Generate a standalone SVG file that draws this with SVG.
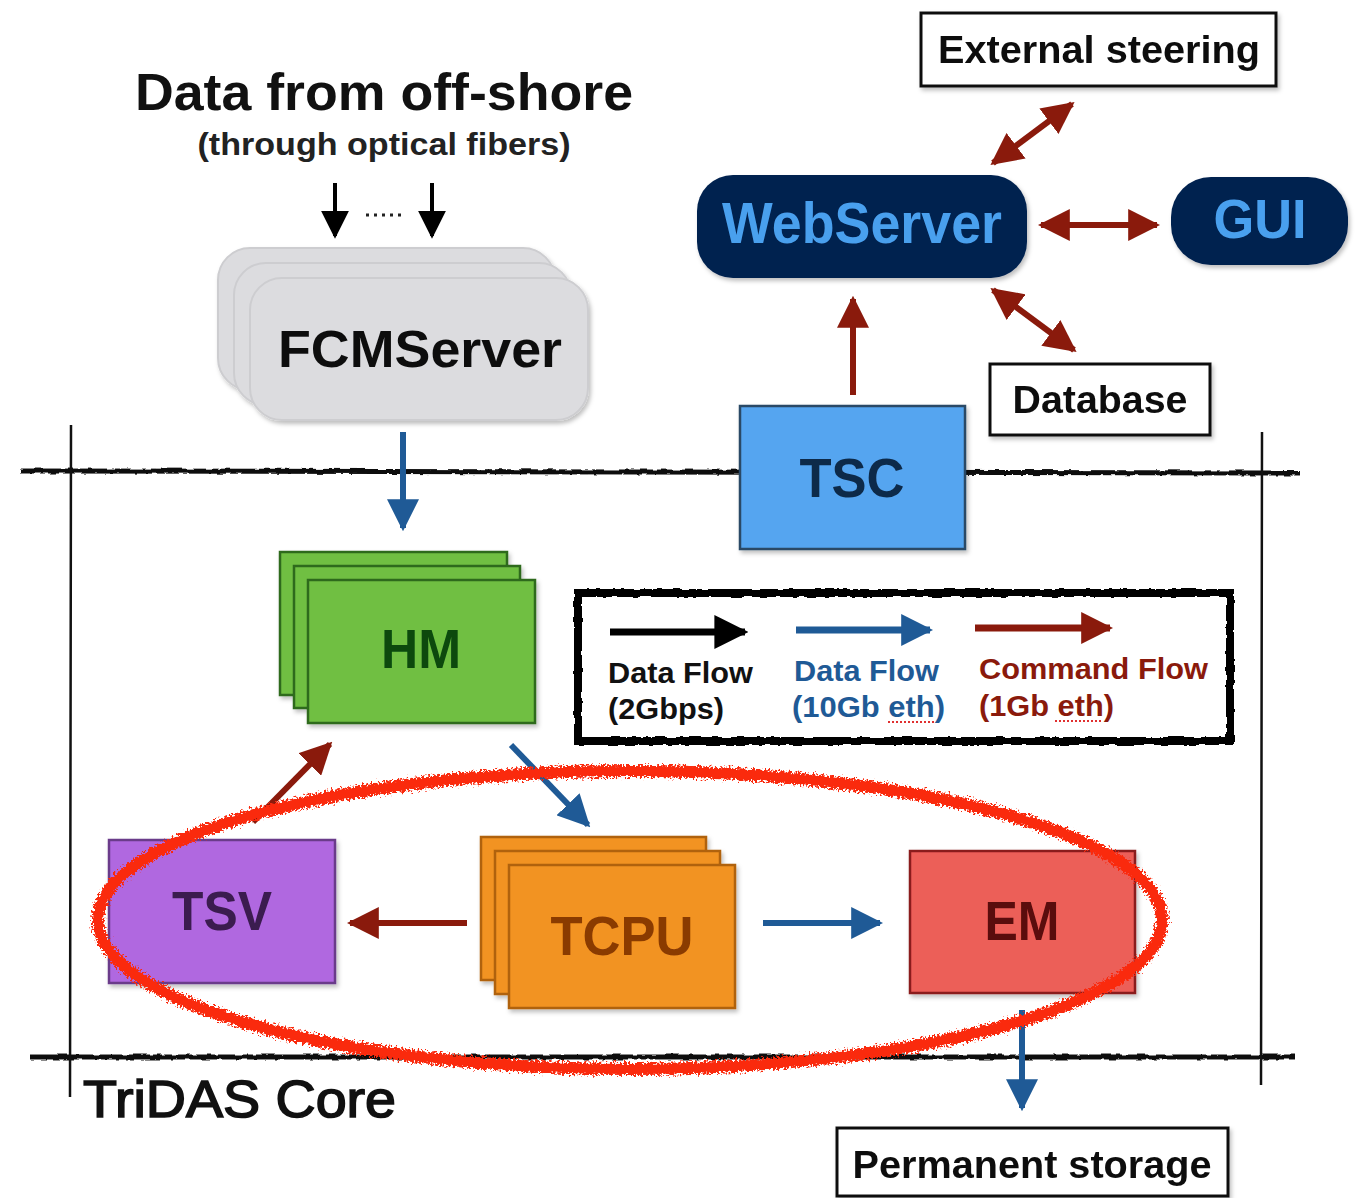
<svg xmlns="http://www.w3.org/2000/svg" width="1364" height="1198" viewBox="0 0 1364 1198">
<style>
  text { font-family: "Liberation Sans", Arial, sans-serif; font-weight: bold; }
  .lbl { text-anchor: middle; }
  .wbox { fill: #fff; stroke: #111; stroke-width: 3; }
  .blue { stroke: #1f5a96; stroke-width: 6; fill: none; }
  .red { stroke: #8a1a0c; stroke-width: 6; fill: none; }
  .sketch { stroke: #111; fill: none; }
</style>
<defs>
  <filter id="sh" x="-10%" y="-10%" width="125%" height="130%">
    <feDropShadow dx="2" dy="3" stdDeviation="2" flood-color="#000" flood-opacity="0.25"/>
  </filter>
  <filter id="rough" filterUnits="userSpaceOnUse" x="0" y="0" width="1364" height="1198">
    <feTurbulence type="fractalNoise" baseFrequency="0.12" numOctaves="2" seed="3" result="n"/>
    <feDisplacementMap in="SourceGraphic" in2="n" scale="4" xChannelSelector="R" yChannelSelector="G"/>
  </filter>
  <filter id="rough2" filterUnits="userSpaceOnUse" x="0" y="0" width="1364" height="1198">
    <feTurbulence type="fractalNoise" baseFrequency="0.45" numOctaves="3" seed="7" result="n"/>
    <feDisplacementMap in="SourceGraphic" in2="n" scale="11" xChannelSelector="R" yChannelSelector="G"/>
  </filter>
  <marker id="hb" viewBox="0 0 10 10" refX="9" refY="5" markerUnits="userSpaceOnUse" markerWidth="32" markerHeight="32" orient="auto-start-reverse">
    <path d="M0,0 L10,5 L0,10 z" fill="#1f5a96"/>
  </marker>
  <marker id="hr" viewBox="0 0 10 10" refX="9" refY="5" markerUnits="userSpaceOnUse" markerWidth="32" markerHeight="32" orient="auto-start-reverse">
    <path d="M0,0 L10,5 L0,10 z" fill="#8a1a0c"/>
  </marker>
  <marker id="hk" viewBox="0 0 10 10" refX="9" refY="5" markerUnits="userSpaceOnUse" markerWidth="34" markerHeight="34" orient="auto-start-reverse">
    <path d="M0,0 L10,5 L0,10 z" fill="#000"/>
  </marker>
  <marker id="hk2" viewBox="0 0 10 10" refX="9" refY="5" markerUnits="userSpaceOnUse" markerWidth="28" markerHeight="28" orient="auto-start-reverse">
    <path d="M0,0 L10,5 L0,10 z" fill="#000"/>
  </marker>
</defs>
<rect width="1364" height="1198" fill="#fff"/>

<!-- TriDAS core frame -->
<g id="frame">
  <g filter="url(#rough)">
    <path class="sketch" d="M20,471 L1300,473" stroke-width="5"/>
    <path class="sketch" d="M30,1057 L1295,1057" stroke-width="5"/>
  </g>
  <path class="sketch" d="M71,425 L70.5,760 L70,1097" stroke-width="2.5"/>
  <path class="sketch" d="M1262,432 L1261.5,760 L1261,1085" stroke-width="2.5"/>
</g>
<text x="83" y="1117" font-size="52" fill="#111" stroke="#111" stroke-width="1.6" textLength="313" lengthAdjust="spacingAndGlyphs" style="font-weight:normal">TriDAS Core</text>

<!-- Title -->
<g id="title">
  <text class="lbl" x="384" y="110" font-size="52" fill="#111" textLength="498" lengthAdjust="spacingAndGlyphs">Data from off-shore</text>
  <text class="lbl" x="384" y="155" font-size="31" fill="#222" textLength="373" lengthAdjust="spacingAndGlyphs">(through optical fibers)</text>
</g>

<!-- Nodes -->
<g id="FCMServer" filter="url(#sh)">
  <rect x="218" y="248" width="337" height="142" rx="32" fill="#dcdcdf" stroke="#cdcdd0" stroke-width="2"/>
  <rect x="234" y="263" width="337" height="142" rx="32" fill="#dcdcdf" stroke="#cdcdd0" stroke-width="2"/>
  <rect x="250" y="278" width="338" height="142" rx="32" fill="#dcdcdf" stroke="#cdcdd0" stroke-width="2"/>
  <text class="lbl" x="420" y="367" font-size="52" fill="#111" textLength="284" lengthAdjust="spacingAndGlyphs">FCMServer</text>
</g>

<g id="ExternalSteering" filter="url(#sh)">
  <rect class="wbox" x="921" y="13" width="355" height="73"/>
  <text class="lbl" x="1099" y="63" font-size="38" fill="#111" textLength="322" lengthAdjust="spacingAndGlyphs">External steering</text>
</g>

<g id="WebServer" filter="url(#sh)">
  <rect x="697" y="175" width="330" height="103" rx="36" fill="#03224f"/>
  <text class="lbl" x="862" y="243" font-size="58" fill="#4aa0ee" textLength="280" lengthAdjust="spacingAndGlyphs">WebServer</text>
</g>

<g id="GUI" filter="url(#sh)">
  <rect x="1171" y="177" width="177" height="88" rx="40" fill="#03224f"/>
  <text class="lbl" x="1260" y="238" font-size="56" fill="#4aa0ee" textLength="93" lengthAdjust="spacingAndGlyphs">GUI</text>
</g>

<g id="Database" filter="url(#sh)">
  <rect class="wbox" x="990" y="364" width="220" height="71"/>
  <text class="lbl" x="1100" y="413" font-size="38" fill="#111" textLength="175" lengthAdjust="spacingAndGlyphs">Database</text>
</g>

<g id="TSC" filter="url(#sh)">
  <rect x="740" y="406" width="225" height="143" fill="#55a5f0" stroke="#2a4866" stroke-width="2.5"/>
  <text class="lbl" x="852" y="497" font-size="56" fill="#0e2a4a" textLength="105" lengthAdjust="spacingAndGlyphs">TSC</text>
</g>

<g id="HM" filter="url(#sh)">
  <rect x="280" y="552" width="227" height="143" fill="#6fbf42" stroke="#2d6a1f" stroke-width="2.5"/>
  <rect x="294" y="566" width="226" height="142" fill="#6fbf42" stroke="#2d6a1f" stroke-width="2.5"/>
  <rect x="308" y="580" width="227" height="143" fill="#6fbf42" stroke="#2d6a1f" stroke-width="2.5"/>
  <text class="lbl" x="421" y="668" font-size="56" fill="#0a4a10" textLength="80" lengthAdjust="spacingAndGlyphs">HM</text>
</g>

<g id="Legend">
  <rect x="578" y="593" width="652" height="148" fill="#fff" stroke="#000" stroke-width="8" filter="url(#rough)"/>
  <line x1="610" y1="632" x2="745" y2="632" stroke="#000" stroke-width="7" marker-end="url(#hk)"/>
  <line x1="796" y1="630" x2="930" y2="630" stroke="#1f5a96" stroke-width="7" marker-end="url(#hb)"/>
  <line x1="975" y1="628" x2="1110" y2="628" stroke="#8a1a0c" stroke-width="7" marker-end="url(#hr)"/>
  <text x="608" y="683" font-size="29" fill="#111" textLength="145" lengthAdjust="spacingAndGlyphs">Data Flow</text>
  <text x="608" y="719" font-size="29" fill="#111" textLength="116" lengthAdjust="spacingAndGlyphs">(2Gbps)</text>
  <text x="794" y="681" font-size="29" fill="#1f5a96" textLength="145" lengthAdjust="spacingAndGlyphs">Data Flow</text>
  <text x="792" y="717" font-size="29" fill="#1f5a96" textLength="153" lengthAdjust="spacingAndGlyphs">(10Gb eth)</text>
  <text x="979" y="679" font-size="29" fill="#8a1a0c" textLength="229" lengthAdjust="spacingAndGlyphs">Command Flow</text>
  <text x="979" y="716" font-size="29" fill="#8a1a0c" textLength="135" lengthAdjust="spacingAndGlyphs">(1Gb eth)</text>
  <line x1="888" y1="722" x2="934" y2="722" stroke="#e03030" stroke-width="2" stroke-dasharray="2 2"/>
  <line x1="1055" y1="721" x2="1101" y2="721" stroke="#e03030" stroke-width="2" stroke-dasharray="2 2"/>
</g>

<g id="TSV" filter="url(#sh)">
  <rect x="109" y="840" width="226" height="143" fill="#b068e0" stroke="#6a3a8a" stroke-width="2.5"/>
  <text class="lbl" x="222" y="930" font-size="56" fill="#3a1a50" textLength="100" lengthAdjust="spacingAndGlyphs">TSV</text>
</g>

<g id="TCPU" filter="url(#sh)">
  <rect x="481" y="837" width="225" height="143" fill="#f29320" stroke="#b0620f" stroke-width="2.5"/>
  <rect x="495" y="851" width="225" height="143" fill="#f29320" stroke="#b0620f" stroke-width="2.5"/>
  <rect x="509" y="865" width="226" height="143" fill="#f29320" stroke="#b0620f" stroke-width="2.5"/>
  <text class="lbl" x="622" y="955" font-size="56" fill="#8a3a05" textLength="143" lengthAdjust="spacingAndGlyphs">TCPU</text>
</g>

<g id="EM" filter="url(#sh)">
  <rect x="910" y="851" width="225" height="142" fill="#ec5e58" stroke="#8a1a1a" stroke-width="2.5"/>
  <text class="lbl" x="1022" y="940" font-size="56" fill="#5a0a0a" textLength="75" lengthAdjust="spacingAndGlyphs">EM</text>
</g>

<g id="PermanentStorage" filter="url(#sh)">
  <rect class="wbox" x="837" y="1128" width="391" height="68"/>
  <text class="lbl" x="1032" y="1178" font-size="38" fill="#111" textLength="359" lengthAdjust="spacingAndGlyphs">Permanent storage</text>
</g>

<!-- Connectors -->
<g id="connectors">
  <line x1="335" y1="183" x2="335" y2="236" stroke="#000" stroke-width="4" marker-end="url(#hk2)"/>
  <line x1="432" y1="183" x2="432" y2="236" stroke="#000" stroke-width="4" marker-end="url(#hk2)"/>
  <line x1="366" y1="215" x2="404" y2="215" stroke="#222" stroke-width="3" stroke-dasharray="3 5"/>
  <line class="blue" x1="403" y1="432" x2="403" y2="528" marker-end="url(#hb)"/>
  <line class="red" x1="853" y1="395" x2="853" y2="299" marker-end="url(#hr)"/>
  <line class="red" x1="1041" y1="225" x2="1157" y2="225" marker-start="url(#hr)" marker-end="url(#hr)"/>
  <line class="red" x1="993" y1="163" x2="1072" y2="104" marker-start="url(#hr)" marker-end="url(#hr)"/>
  <line class="red" x1="993" y1="290" x2="1074" y2="350" marker-start="url(#hr)" marker-end="url(#hr)"/>
  <line class="red" x1="253" y1="822" x2="330" y2="744" marker-end="url(#hr)"/>
  <line class="blue" x1="511" y1="745" x2="588" y2="825" marker-end="url(#hb)"/>
  <line class="red" x1="467" y1="923" x2="350" y2="923" marker-end="url(#hr)"/>
  <line class="blue" x1="763" y1="923" x2="880" y2="923" marker-end="url(#hb)"/>
  <line class="blue" x1="1022" y1="1010" x2="1022" y2="1108" marker-end="url(#hb)"/>
</g>

<!-- Red highlight ellipse -->
<g id="highlight">
  <ellipse cx="630" cy="920" rx="532" ry="149" fill="none" stroke="#fa2a10" stroke-width="8"/>
  <ellipse cx="630" cy="920" rx="532" ry="149" fill="none" stroke="#fa2a10" stroke-width="12" filter="url(#rough2)"/>
</g>
</svg>
